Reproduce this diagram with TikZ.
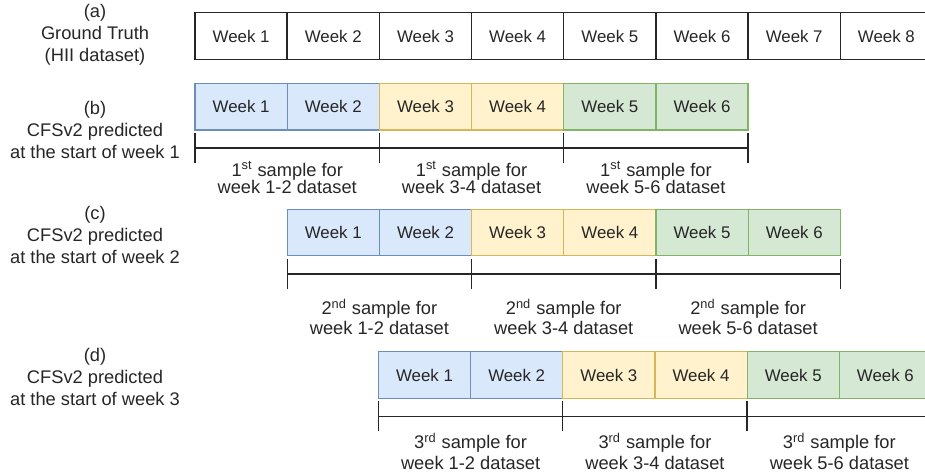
\documentclass[tikz,border=0pt]{standalone}
\usepackage{fontspec}
\setmainfont{Liberation Sans}
\usetikzlibrary{positioning,calc}
\definecolor{bluefill}{HTML}{DAE8FC}\definecolor{blueline}{HTML}{6C8EBF}
\definecolor{yellowfill}{HTML}{FFF2CC}\definecolor{yellowline}{HTML}{D6B656}
\definecolor{greenfill}{HTML}{D5E8D4}\definecolor{greenline}{HTML}{82B366}
\definecolor{txt}{HTML}{262626}

\begin{document}
\begin{tikzpicture}[x=0.02cm,y=-0.02cm,
  every node/.style={text=txt,inner sep=0pt,outer sep=0pt},
  node distance=0pt,
  weekcell/.style={draw=black!85,line width=.8pt,minimum width=1.844cm,minimum height=.93cm,font=\fontsize{9.6}{11}\selectfont},
  cell/.style={weekcell,draw=#1line,fill=#1fill,line width=.7pt},
  rowlabel/.style={align=center,font=\fontsize{10.4}{12.4}\selectfont},
  bar/.style={line width=.75pt,black!85}]
\clip (0,0) rectangle (925,475);
% (a) ground truth
\node[rowlabel] (la) at (95,35) {(a)\\Ground Truth\\(HII dataset)};
\node[weekcell] (a1) at (241.1,36) {Week 1};
\foreach \i [count=\j] in {2,...,8}
  \node[weekcell,right=of a\j] (a\i) {Week \i};
% (b)-(d) forecasts
\node[rowlabel] (lb) at (95,130) {(b)\\CFSv2 predicted\\at the start of week 1};
\node[rowlabel] (lc) at (95,235) {(c)\\CFSv2 predicted\\at the start of week 2};
\node[rowlabel] (ld) at (95,377) {(d)\\CFSv2 predicted\\at the start of week 3};
\foreach \row/\x/\y/\n/\sfx/\dy/\ls in {b/241.1/106.7/1/st/47.5/9.8,c/333.3/232.6/2/nd/61/11.6,d/424.5/375/3/rd/53/11.8}{
  \node[cell=blue] (\row1) at (\x,\y) {Week 1};
  \foreach \i/\col [count=\j] in {2/blue,3/yellow,4/yellow,5/green,6/green}
    \node[cell=\col,right=of \row\j] (\row\i) {Week \i};
  \foreach \k in {1,3,5}
    \draw[bar] (\row\k.south west) ++(0,3) -- ++(0,30);
  \draw[bar] (\row6.south east) ++(0,3) -- ++(0,30);
  \draw[bar] ($(\row1.south west)+(0,18)$) -- ($(\row6.south east)+(0,18)$);
  \foreach \k/\wk in {1/1-2,3/3-4,5/5-6}
    \node[align=center,font=\fontsize{10.4}{\ls}\selectfont] (\row s\k) at ($(\row\k.south east)+(0,\dy)$)
      {\n\textsuperscript{\sfx} sample for\\week \wk{} dataset};
}
\end{tikzpicture}
\end{document}
